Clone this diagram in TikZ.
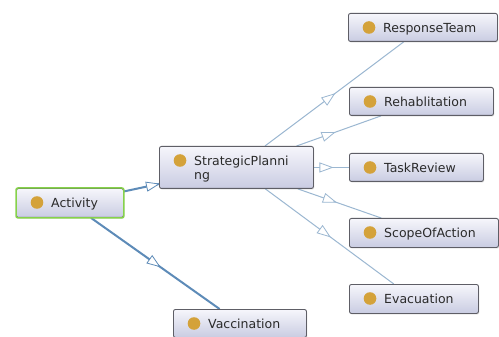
\documentclass[tikz,border=0pt]{standalone}
\usepackage{fontspec}
\setmainfont{DejaVu Sans}
\usetikzlibrary{arrows.meta,decorations.markings,shadows,backgrounds}

\definecolor{boxedge}{HTML}{5E5E66}
\definecolor{boxtop}{HTML}{F6F6FB}
\definecolor{boxbot}{HTML}{C9CCE2}
\definecolor{dotc}{HTML}{D4A23A}
\definecolor{selgreen}{HTML}{86D24A}
\definecolor{linkthick}{HTML}{5D8BB8}
\definecolor{linkthin}{HTML}{9BB7D1}
\definecolor{txt}{HTML}{2A2A2A}

\tikzset{
  obox/.style={draw=boxedge, line width=0.9pt, rounded corners=2pt,
    top color=boxtop, bottom color=boxbot, inner sep=0pt,
    drop shadow={opacity=0.18, shadow xshift=0.8pt, shadow yshift=-1.2pt}},
  otext/.style={text=txt, inner sep=0pt, align=left,
    font=\fontsize{12.5}{14}\selectfont},
  headtip/.style={Triangle[length=14pt,width=10pt,fill=white,line width=0.8pt]},
  headmark/.style={decoration={markings,
    mark=at position 0.5 with {\arrow[xshift=7pt]{Triangle[length=14pt,width=10pt,fill=white,line width=0.8pt]}}},
    postaction={decorate}},
  thicklink/.style={draw=linkthick, color=linkthick, line width=2pt},
  thinlink/.style={draw=linkthin, color=linkthin, line width=1pt},
}

% class box: name, left, top, width, height, label
\newcommand\ontobox[6]{%
  \node[obox, minimum width=#4pt, minimum height=#5pt, anchor=north west] (#1) at (#2,#3) {};
  \fill[dotc] ([xshift=21pt,yshift=-14.5pt]#1.north west) circle (6.3pt);
  \node[otext, anchor=north west] (#1-t) at ([xshift=35pt,yshift=-9.7pt]#1.north west) {#6};
}

% subclass edge: from, to, style; the head sits halfway between the box centres
\newcommand\isalink[3]{%
  \draw[#3] (#1) -- (#2);
  \path[#3, draw=none, headmark] (#1.center) -- (#2.center);
}

\begin{document}
\begin{tikzpicture}[x=1pt, y=-1pt]
\useasboundingbox (0,0) rectangle (499,337);

\ontobox{act}{16}{188}{107}{29}{Activity}
\ontobox{sp}{159}{146}{154}{42}{StrategicPlanni\\ng}
\ontobox{vac}{173}{309}{133}{28}{Vaccination}
\ontobox{rt}{348}{13}{149}{28}{ResponseTeam}
\ontobox{reh}{349}{87}{144}{28}{Rehablitation}
\ontobox{tr}{349}{153}{134}{28}{TaskReview}
\ontobox{soa}{349}{218}{149}{29}{ScopeOfAction}
\ontobox{eva}{349}{284}{129}{29}{Evacuation}

% Activity is the selected class
\draw[selgreen, line width=1.5pt, rounded corners=2pt] (act.north west) rectangle (act.south east);

\begin{scope}[on background layer]
  \fill[white] (0,0) rectangle (499,337);
  \isalink{act}{sp}{thicklink}
  \isalink{act}{vac}{thicklink}
  \isalink{sp}{rt}{thinlink}
  \isalink{sp}{reh}{thinlink}
  \isalink{sp}{tr}{thinlink}
  \isalink{sp}{soa}{thinlink}
  \isalink{sp}{eva}{thinlink}
\end{scope}
\end{tikzpicture}
\end{document}
